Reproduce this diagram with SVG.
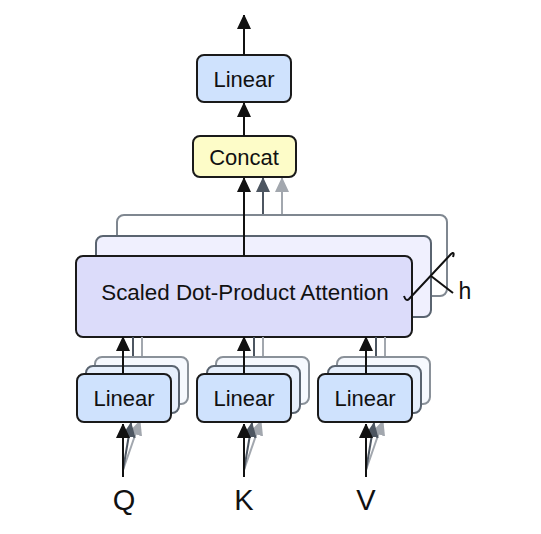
<svg xmlns="http://www.w3.org/2000/svg" width="541" height="534" viewBox="0 0 541 534">
<defs>
<style>
text{font-family:"Liberation Sans",Arial,sans-serif;fill:#111;text-anchor:middle}
.lbl{font-size:22px}
.att{font-size:22.4px}
.qkv{font-size:29px}
.blk{stroke:#111;stroke-width:2;fill:none}
.dg{stroke:#4d5661;stroke-width:2;fill:none}
.lg{stroke:#a2a7ae;stroke-width:2;fill:none}
.lin-f{fill:#cfe2fd;stroke:#1a1a1a;stroke-width:2}
.lin-m{fill:#e6effc;stroke:#5a6470;stroke-width:2}
.lin-b{fill:#f6f9fe;stroke:#8a9199;stroke-width:2}
</style>
<marker id="ab" markerUnits="userSpaceOnUse" markerWidth="14" markerHeight="16" viewBox="0 0 14 16" refX="14" refY="7" orient="auto"><path d="M0,0 L15,7 L0,14 Z" fill="#111"/></marker>
<marker id="ad" markerUnits="userSpaceOnUse" markerWidth="14" markerHeight="16" viewBox="0 0 14 16" refX="14" refY="7" orient="auto"><path d="M0,0 L15,7 L0,14 Z" fill="#4d5661"/></marker>
<marker id="al" markerUnits="userSpaceOnUse" markerWidth="14" markerHeight="16" viewBox="0 0 14 16" refX="14" refY="7" orient="auto"><path d="M0,0 L15,7 L0,14 Z" fill="#a2a7ae"/></marker>
</defs>
<rect width="541" height="534" fill="#fff"/>

<g id="connectors-back">
<line class="lg" x1="282" y1="215" x2="282" y2="178" marker-end="url(#al)"/>
<line class="dg" x1="263" y1="236" x2="263" y2="178" marker-end="url(#ad)"/>
</g>

<g id="attention">
<rect x="117" y="215" width="330" height="81" rx="7" fill="#ffffff" stroke="#7f8790" stroke-width="2"/>
<rect x="96" y="236" width="335" height="81" rx="7" fill="#f0f0fe" stroke="#5a6470" stroke-width="2"/>
<rect x="76" y="256" width="336" height="81" rx="7" fill="#dcdcfa" stroke="#1a1a1a" stroke-width="2"/>
<text class="att" x="245" y="300">Scaled Dot-Product Attention</text>
</g>

<g id="h-mark">
<path class="blk" d="M404,296 Q406,302 409,299 L451,254 Q455,251 453,257"/>
<line class="blk" x1="431" y1="276" x2="453" y2="293"/>
<text x="465" y="299" font-size="23">h</text>
</g>

<g id="linear-top">
<rect x="197" y="55" width="94" height="47" rx="7" fill="#cfe2fd" stroke="#1a1a1a" stroke-width="2"/>
<text class="lbl" x="244" y="87">Linear</text>
</g>

<g id="concat">
<rect x="193" y="136" width="103" height="41" rx="7" fill="#fdfcc8" stroke="#1a1a1a" stroke-width="2"/>
<text class="lbl" x="244" y="165">Concat</text>
</g>

<g id="connectors">
<line class="blk" x1="244" y1="55" x2="244" y2="15" marker-end="url(#ab)"/>
<line class="blk" x1="244" y1="136" x2="244" y2="103" marker-end="url(#ab)"/>
<line class="blk" x1="244" y1="256" x2="244" y2="178" marker-end="url(#ab)"/>
</g>

<g id="linear-q">
<line class="lg" x1="142" y1="357" x2="142" y2="337"/>
<line class="dg" x1="133" y1="366" x2="133" y2="337"/>
<rect class="lin-b" x="95" y="357" width="93" height="47" rx="7"/>
<rect class="lin-m" x="86" y="366" width="93" height="47" rx="7"/>
<line class="lg" x1="123" y1="470" x2="140" y2="421" marker-end="url(#al)"/>
<line class="dg" x1="123" y1="470" x2="131" y2="423" marker-end="url(#ad)"/>
<rect class="lin-f" x="77" y="374" width="94" height="48" rx="7"/>
<text class="lbl" x="124" y="406">Linear</text>
<line class="blk" x1="123" y1="374" x2="123" y2="337" marker-end="url(#ab)"/>
<line class="blk" x1="123" y1="477" x2="123" y2="424" marker-end="url(#ab)"/>
<text class="qkv" x="124" y="510">Q</text>
</g>

<g id="linear-k">
<line class="lg" x1="263" y1="357" x2="263" y2="337"/>
<line class="dg" x1="254" y1="366" x2="254" y2="337"/>
<rect class="lin-b" x="216" y="357" width="93" height="47" rx="7"/>
<rect class="lin-m" x="207" y="366" width="93" height="47" rx="7"/>
<line class="lg" x1="244" y1="470" x2="261" y2="421" marker-end="url(#al)"/>
<line class="dg" x1="244" y1="470" x2="252" y2="423" marker-end="url(#ad)"/>
<rect class="lin-f" x="197" y="374" width="94" height="48" rx="7"/>
<text class="lbl" x="244" y="406">Linear</text>
<line class="blk" x1="244" y1="374" x2="244" y2="337" marker-end="url(#ab)"/>
<line class="blk" x1="244" y1="477" x2="244" y2="424" marker-end="url(#ab)"/>
<text class="qkv" x="244" y="510">K</text>
</g>

<g id="linear-v">
<line class="lg" x1="385" y1="357" x2="385" y2="337"/>
<line class="dg" x1="376" y1="366" x2="376" y2="337"/>
<rect class="lin-b" x="337" y="357" width="93" height="47" rx="7"/>
<rect class="lin-m" x="328" y="366" width="93" height="47" rx="7"/>
<line class="lg" x1="366" y1="470" x2="383" y2="421" marker-end="url(#al)"/>
<line class="dg" x1="366" y1="470" x2="374" y2="423" marker-end="url(#ad)"/>
<rect class="lin-f" x="318" y="374" width="94" height="48" rx="7"/>
<text class="lbl" x="365" y="406">Linear</text>
<line class="blk" x1="366" y1="374" x2="366" y2="337" marker-end="url(#ab)"/>
<line class="blk" x1="366" y1="477" x2="366" y2="424" marker-end="url(#ab)"/>
<text class="qkv" x="366" y="510">V</text>
</g>
</svg>
